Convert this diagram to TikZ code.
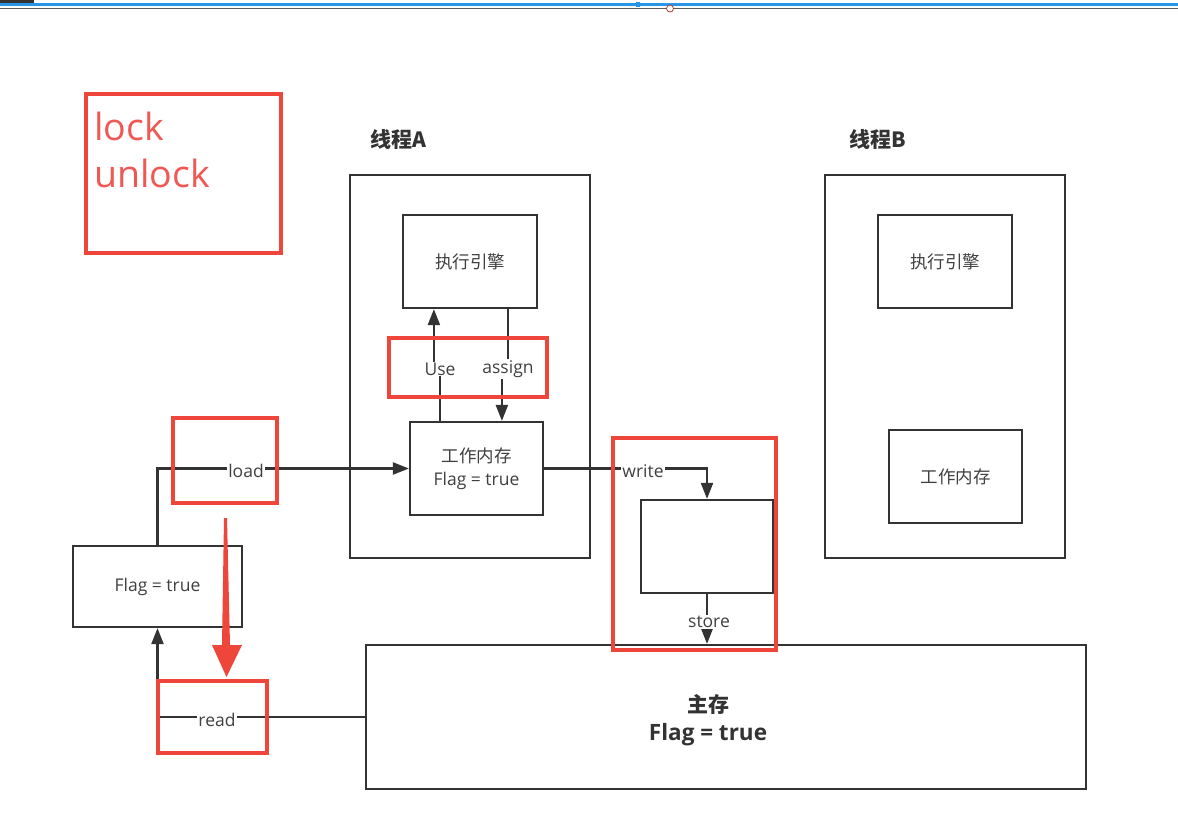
\documentclass[tikz,border=0pt]{standalone}
\usepackage{fontspec}
\setmainfont{Open Sans}
\newfontfamily\cjk{Noto Sans CJK SC}
\usetikzlibrary{arrows.meta,calc}
\definecolor{ink}{RGB}{51,51,51}
\definecolor{txt}{RGB}{64,64,64}
\definecolor{hlred}{RGB}{238,70,58}
\definecolor{hltxt}{RGB}{240,88,84}
\definecolor{chrome}{RGB}{40,150,230}
\tikzset{
  box/.style={draw=ink, line width=2.2pt, fill=white, text=txt, font=\fontsize{17.5}{22}\selectfont, align=center, inner sep=0pt},
  frame/.style={draw=ink, line width=2.2pt, inner sep=0pt},
  redbox/.style={draw=hlred, line width=3.3pt},
  conn/.style={draw=ink, line width=2.2pt},
  arr/.style={conn, -{Triangle[length=16pt,width=12pt]}},
  lbl/.style={fill=white, text=txt, inner sep=1pt, font=\fontsize{17.5}{19}\selectfont},
  title/.style={text=ink, font=\cjk\bfseries\fontsize{21}{24}\selectfont, inner sep=0pt}
}
\begin{document}
\begin{tikzpicture}[x=1pt,y=-1pt]
\useasboundingbox (0,0) rectangle (1178,823);
\fill[white] (0,0) rectangle (1178,823);
% screen chrome at top
\fill[ink] (0,0) rectangle (34,3);
\fill[chrome] (0,3) rectangle (1178,5.5);
\draw[ink!80, line width=1.2pt] (0,8.5) -- (1178,8.5);
\fill[chrome] (636,2) rectangle (640,7);
\draw[hlred!60!ink, fill=white, line width=0.8pt] (670,8.5) circle (3.5);

% thread frames
\node[frame, minimum width=240, minimum height=383] (tA) at (470,366.5) {};
\node[frame, minimum width=240, minimum height=383] (tB) at (945,366.5) {};
\node[title, anchor=west] (tAl) at (370,139) {线程A};
\node[title, anchor=west] (tBl) at (849,139) {线程B};

% boxes
\node[box, minimum width=134, minimum height=93] (eA) at (470,261.5) {\cjk\raisebox{-2pt}{执行引擎}};
\node[box, minimum width=133, minimum height=93] (wA) at (476.5,468.5) {{\cjk\raisebox{-2pt}{工作内存}}\\\raisebox{-3pt}{Flag = true}};
\node[box, minimum width=134, minimum height=93] (eB) at (945,261.5) {\cjk\raisebox{-2pt}{执行引擎}};
\node[box, minimum width=133, minimum height=93] (wB) at (955.5,476.5) {\cjk\raisebox{-2pt}{工作内存}};
\node[box, minimum width=169, minimum height=81] (flag) at (157.5,586.5) {\raisebox{-3pt}{Flag = true}};
\node[box, minimum width=132, minimum height=93] (st) at (707,546.5) {};
\node[box, minimum width=720, minimum height=144] (mm) at (726,717) {};
\node[text=ink, align=center, inner sep=0pt, font=\bfseries\fontsize{22.5}{28}\selectfont] (mmt) at (708,720) {{\cjk\bfseries\fontsize{21}{28}\selectfont 主存}\\Flag = true};

% connectors
\draw[arr] (flag.north) |- (wA.west);
\draw[arr] ($(wA.north west)+(31,0)$) -- ++(0,-54) -| ($(eA.south west)+(32,0)$);
\draw[arr] ($(eA.south west)+(106,0)$) -- ++(0,60) -| ($(wA.north west)+(93,0)$);
\draw[arr] (wA.east) -| (st.north);
\draw[arr] (st.south) -- (st.south |- mm.north);
\draw[arr] (mm.west) -| (flag.south);

% connector labels
\node[lbl] (lload) at (246,471) {load};
\node[lbl] (luse) at (440,369) {Use};
\node[lbl] (lassign) at (508,369) {assign};
\node[lbl] (lwrite) at (643,471) {write};
\node[lbl] (lstore) at (709,622) {store};
\node[lbl] (lread) at (217,720) {read};

% red highlight boxes
\draw[redbox] (86,94) rectangle (281,253);
\node[anchor=base west, text=hltxt, inner sep=0pt, font=\fontsize{37.5}{40}\selectfont] (lk) at (94,140) {lock};
\node[anchor=base west, text=hltxt, inner sep=0pt, font=\fontsize{37.5}{40}\selectfont] (ulk) at (94,187) {unlock};
\draw[redbox] (389,338) rectangle (547,397);
\draw[redbox] (173,418) rectangle (277,503);
\draw[redbox] (158,681) rectangle (267,753);
\draw[redbox] (613,438) rectangle (776,650);

% big red arrow
\fill[hlred] (224,518) -- (227,518) -- (230,645) -- (242,645) -- (226.5,677) -- (212,645) -- (222,645) -- cycle;
\end{tikzpicture}
\end{document}
